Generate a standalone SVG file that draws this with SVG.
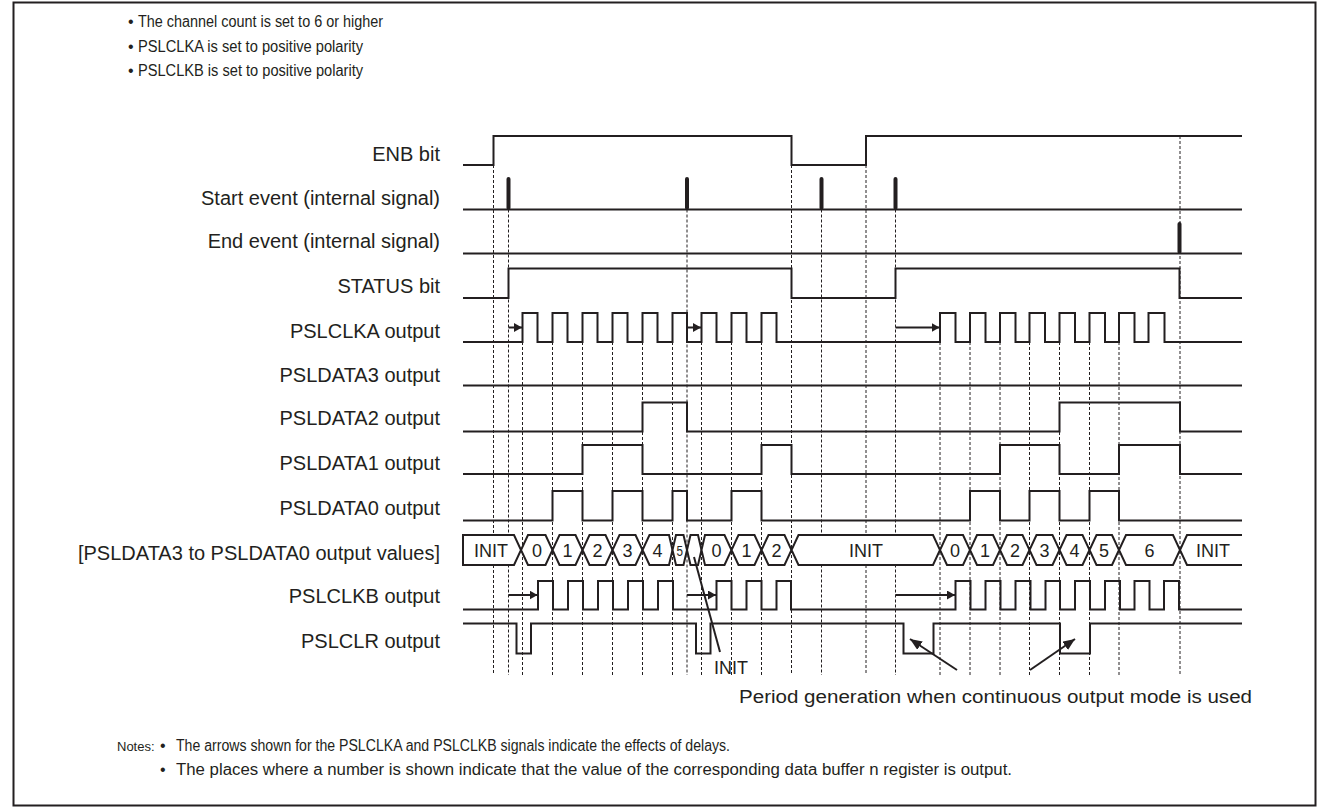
<svg xmlns="http://www.w3.org/2000/svg" width="1328" height="809" viewBox="0 0 1328 809">
<defs>
<style>
.sig{fill:none;stroke:#231f20;stroke-width:2;stroke-linejoin:miter}
.pulse{fill:none;stroke:#231f20;stroke-width:4;stroke-linecap:round}
.guide{stroke:#231f20;stroke-width:1;stroke-dasharray:3,2;fill:none}
.bus{fill:#fff;stroke:#231f20;stroke-width:2;stroke-linejoin:miter}
.lbl{font-family:"Liberation Sans",Arial,sans-serif;font-size:20px;fill:#231f20;text-anchor:end}
.txt{font-family:"Liberation Sans",Arial,sans-serif;font-size:16px;fill:#231f20}
.bv{font-family:"Liberation Sans",Arial,sans-serif;font-size:18px;fill:#231f20;text-anchor:middle}
.arr{fill:none;stroke:#231f20;stroke-width:2}
</style>
<marker id="ah" viewBox="0 0 8 9" markerUnits="userSpaceOnUse" markerWidth="8" markerHeight="9" refX="8" refY="4.5" orient="auto">
<path d="M0,0 L8,4.5 L0,9 Z" fill="#231f20"/>
</marker>
<marker id="ah2" viewBox="0 0 12 10" markerUnits="userSpaceOnUse" markerWidth="12" markerHeight="10" refX="12" refY="5" orient="auto">
<path d="M0,0 L12,5 L0,10 Z" fill="#231f20"/>
</marker>
</defs>
<rect x="13.5" y="2.5" width="1302" height="803" fill="#fff" stroke="#231f20" stroke-width="2"/>

<g id="conditions" class="txt">
<text x="128" y="27">•</text>
<text x="138" y="27" textLength="245" lengthAdjust="spacingAndGlyphs">The channel count is set to 6 or higher</text>
<text x="128" y="52">•</text>
<text x="138" y="52" textLength="225" lengthAdjust="spacingAndGlyphs">PSLCLKA is set to positive polarity</text>
<text x="128" y="76">•</text>
<text x="138" y="76" textLength="225" lengthAdjust="spacingAndGlyphs">PSLCLKB is set to positive polarity</text>
</g>

<g id="labels" class="lbl">
<text x="440" y="161">ENB bit</text>
<text x="440" y="205">Start event (internal signal)</text>
<text x="440" y="248">End event (internal signal)</text>
<text x="440" y="293">STATUS bit</text>
<text x="440" y="338">PSLCLKA output</text>
<text x="440" y="382">PSLDATA3 output</text>
<text x="440" y="425">PSLDATA2 output</text>
<text x="440" y="470">PSLDATA1 output</text>
<text x="440" y="515">PSLDATA0 output</text>
<text x="440" y="560">[PSLDATA3 to PSLDATA0 output values]</text>
<text x="440" y="603">PSLCLKB output</text>
<text x="440" y="648">PSLCLR output</text>
</g>

<g id="guides" class="guide">
<line x1="493.5" y1="165" x2="493.5" y2="675"/>
<line x1="508.5" y1="209.5" x2="508.5" y2="675"/>
<line x1="522.5" y1="342" x2="522.5" y2="675"/>
<line x1="552.5" y1="342" x2="552.5" y2="675"/>
<line x1="582.5" y1="342" x2="582.5" y2="675"/>
<line x1="612.5" y1="342" x2="612.5" y2="675"/>
<line x1="642.5" y1="342" x2="642.5" y2="675"/>
<line x1="672.5" y1="342" x2="672.5" y2="675"/>
<line x1="687" y1="209.5" x2="687" y2="675"/>
<line x1="701.5" y1="342" x2="701.5" y2="675"/>
<line x1="731.5" y1="342" x2="731.5" y2="675"/>
<line x1="761.5" y1="342" x2="761.5" y2="675"/>
<line x1="791.5" y1="165" x2="791.5" y2="675"/>
<line x1="821.5" y1="209.5" x2="821.5" y2="675"/>
<line x1="866" y1="165" x2="866" y2="675"/>
<line x1="895.5" y1="209.5" x2="895.5" y2="675"/>
<line x1="940" y1="342" x2="940" y2="675"/>
<line x1="970" y1="342" x2="970" y2="675"/>
<line x1="1000" y1="342" x2="1000" y2="675"/>
<line x1="1029.5" y1="342" x2="1029.5" y2="675"/>
<line x1="1059.5" y1="342" x2="1059.5" y2="675"/>
<line x1="1089.5" y1="342" x2="1089.5" y2="675"/>
<line x1="1119" y1="342" x2="1119" y2="675"/>
<line x1="1180" y1="136" x2="1180" y2="675"/>
</g>

<g id="enb">
<path class="sig" d="M463,165 H493.5 V136 H791.5 V165 H866 V136 H1242"/>
</g>
<g id="start-event">
<path class="sig" d="M463,209.5 H1242"/>
<path class="pulse" d="M508.5,208 V179 M687,208 V179 M821.5,208 V179 M895.5,208 V179"/>
</g>
<g id="end-event">
<path class="sig" d="M463,253.5 H1242"/>
<path class="pulse" d="M1179.5,252 V224"/>
</g>
<g id="status">
<path class="sig" d="M463,298 H508.5 V268.5 H791.5 V298 H895.5 V268.5 H1179.5 V298 H1242"/>
</g>
<g id="pslclka">
<path class="sig" d="M463,342 H522.5 V313 H537.5 V342 H552.5 V313 H567.5 V342 H582.5 V313 H597.5 V342 H612.5 V313 H627.5 V342 H642.5 V313 H657.5 V342 H672.5 V313 H687 V342 H701.5 V313 H716.5 V342 H731.5 V313 H746.5 V342 H761.5 V313 H776.5 V342 H940 V313 H955.5 V342 H970 V313 H985.5 V342 H1000 V313 H1015.5 V342 H1029.5 V313 H1045 V342 H1059.5 V313 H1075 V342 H1089.5 V313 H1105 V342 H1119 V313 H1134.5 V342 H1148.5 V313 H1164.5 V342 H1242"/>
<path class="arr" marker-end="url(#ah)" d="M508.5,327.5 H522"/>
<path class="arr" marker-end="url(#ah)" d="M687,327.5 H701"/>
<path class="arr" marker-end="url(#ah)" d="M895.5,327.5 H939.5"/>
</g>
<g id="psldata3">
<path class="sig" d="M463,385.5 H1242"/>
</g>
<g id="psldata2">
<path class="sig" d="M463,431.5 H642.5 V402.5 H687 V431.5 H1059.5 V402.5 H1180 V431.5 H1242"/>
</g>
<g id="psldata1">
<path class="sig" d="M463,474 H582.5 V445 H642.5 V474 H761.5 V445 H791.5 V474 H1000 V445 H1059.5 V474 H1119 V445 H1180 V474 H1242"/>
</g>
<g id="psldata0">
<path class="sig" d="M463,520.5 H552.5 V491 H582.5 V520.5 H612.5 V491 H642.5 V520.5 H672.5 V491 H687 V520.5 H731.5 V491 H761.5 V520.5 H970 V491 H1000 V520.5 H1029.5 V491 H1059.5 V520.5 H1089.5 V491 H1119 V520.5 H1242"/>
</g>
<g id="bus-values">
<path class="bus" d="M463,535 H514 L521,550 L514,565 H463 Z"/>
<path class="bus" d="M528,535 H545.5 L552.5,550 L545.5,565 H528 L521,550 Z"/>
<path class="bus" d="M559.5,535 H575.5 L582.5,550 L575.5,565 H559.5 L552.5,550 Z"/>
<path class="bus" d="M589.5,535 H605.5 L612.5,550 L605.5,565 H589.5 L582.5,550 Z"/>
<path class="bus" d="M619.5,535 H635.5 L642.5,550 L635.5,565 H619.5 L612.5,550 Z"/>
<path class="bus" d="M649.5,535 H669 L672.5,550 L669,565 H649.5 L642.5,550 Z"/>
<path class="bus" d="M676,535 H683.5 L687,550 L683.5,565 H676 L672.5,550 Z"/>
<path class="bus" d="M690.5,535 H698 L701.5,550 L698,565 H690.5 L687,550 Z"/>
<path class="bus" d="M705,535 H724.5 L731.5,550 L724.5,565 H705 L701.5,550 Z"/>
<path class="bus" d="M738.5,535 H754.5 L761.5,550 L754.5,565 H738.5 L731.5,550 Z"/>
<path class="bus" d="M768.5,535 H784.5 L791.5,550 L784.5,565 H768.5 L761.5,550 Z"/>
<path class="bus" d="M798.5,535 H933 L940,550 L933,565 H798.5 L791.5,550 Z"/>
<path class="bus" d="M947,535 H963 L970,550 L963,565 H947 L940,550 Z"/>
<path class="bus" d="M977,535 H993 L1000,550 L993,565 H977 L970,550 Z"/>
<path class="bus" d="M1007,535 H1022.5 L1029.5,550 L1022.5,565 H1007 L1000,550 Z"/>
<path class="bus" d="M1036.5,535 H1052.5 L1059.5,550 L1052.5,565 H1036.5 L1029.5,550 Z"/>
<path class="bus" d="M1066.5,535 H1082.5 L1089.5,550 L1082.5,565 H1066.5 L1059.5,550 Z"/>
<path class="bus" d="M1096.5,535 H1112 L1119,550 L1112,565 H1096.5 L1089.5,550 Z"/>
<path class="bus" d="M1126,535 H1173 L1180,550 L1173,565 H1126 L1119,550 Z"/>
<path class="bus" d="M1242,535 H1187 L1180,550 L1187,565 H1242"/>
<g class="bv">
<text x="491" y="557">INIT</text>
<text x="537" y="557">0</text>
<text x="567.5" y="557">1</text>
<text x="597.5" y="557">2</text>
<text x="627.5" y="557">3</text>
<text x="657.5" y="557">4</text>
<text x="679.75" y="556" style="font-size:15px" textLength="6.5" lengthAdjust="spacingAndGlyphs">5</text>
<text x="716.5" y="557">0</text>
<text x="746.5" y="557">1</text>
<text x="776.5" y="557">2</text>
<text x="866" y="557">INIT</text>
<text x="955" y="557">0</text>
<text x="985" y="557">1</text>
<text x="1015" y="557">2</text>
<text x="1044.5" y="557">3</text>
<text x="1074.5" y="557">4</text>
<text x="1104" y="557">5</text>
<text x="1149.5" y="557">6</text>
<text x="1213" y="557">INIT</text>
</g>
</g>
<g id="pslclkb">
<path class="sig" d="M463,609.5 H538 V581 H553 V609.5 H568 V581 H583 V609.5 H598 V581 H613 V609.5 H628 V581 H643 V609.5 H658 V581 H673 V609.5 H716.5 V581 H731.5 V609.5 H746.5 V581 H761.5 V609.5 H776.5 V581 H791 V609.5 H955.5 V581 H970.5 V609.5 H985.5 V581 H1000.5 V609.5 H1015.5 V581 H1030.5 V609.5 H1045.5 V581 H1060 V609.5 H1075 V581 H1090 V609.5 H1105 V581 H1120 V609.5 H1134.5 V581 H1149.5 V609.5 H1164 V581 H1179 V609.5 H1242"/>
<path class="arr" marker-end="url(#ah)" d="M508.5,595 H537.5"/>
<path class="arr" marker-end="url(#ah)" d="M687,595 H716"/>
<path class="arr" marker-end="url(#ah)" d="M895.5,595 H955"/>
</g>
<g id="pslclr">
<path class="sig" d="M463,623.5 H516.5 V653.5 H531 V623.5 H696 V653.5 H710.5 V623.5 H903.5 V653.5 H933.5 V623.5 H1060 V653.5 H1090 V623.5 H1242"/>
</g>

<g id="annotations">
<path class="sig" stroke-width="1.3" d="M694,557 L720,652"/>
<text class="bv" x="731" y="674">INIT</text>
<path class="arr" marker-end="url(#ah2)" d="M957,670 L910,639"/>
<path class="arr" marker-end="url(#ah2)" d="M1030,670 L1075,639"/>
<text class="txt" x="739" y="703" style="font-size:18px" textLength="513" lengthAdjust="spacingAndGlyphs">Period generation when continuous output mode is used</text>
</g>

<g id="notes" class="txt">
<text x="117" y="751" style="font-size:13px">Notes:</text>
<text x="160" y="751">•</text>
<text x="176" y="751" textLength="554" lengthAdjust="spacingAndGlyphs">The arrows shown for the PSLCLKA and PSLCLKB signals indicate the effects of delays.</text>
<text x="160" y="775">•</text>
<text x="176" y="775" textLength="836" lengthAdjust="spacingAndGlyphs">The places where a number is shown indicate that the value of the corresponding data buffer n register is output.</text>
</g>
</svg>
